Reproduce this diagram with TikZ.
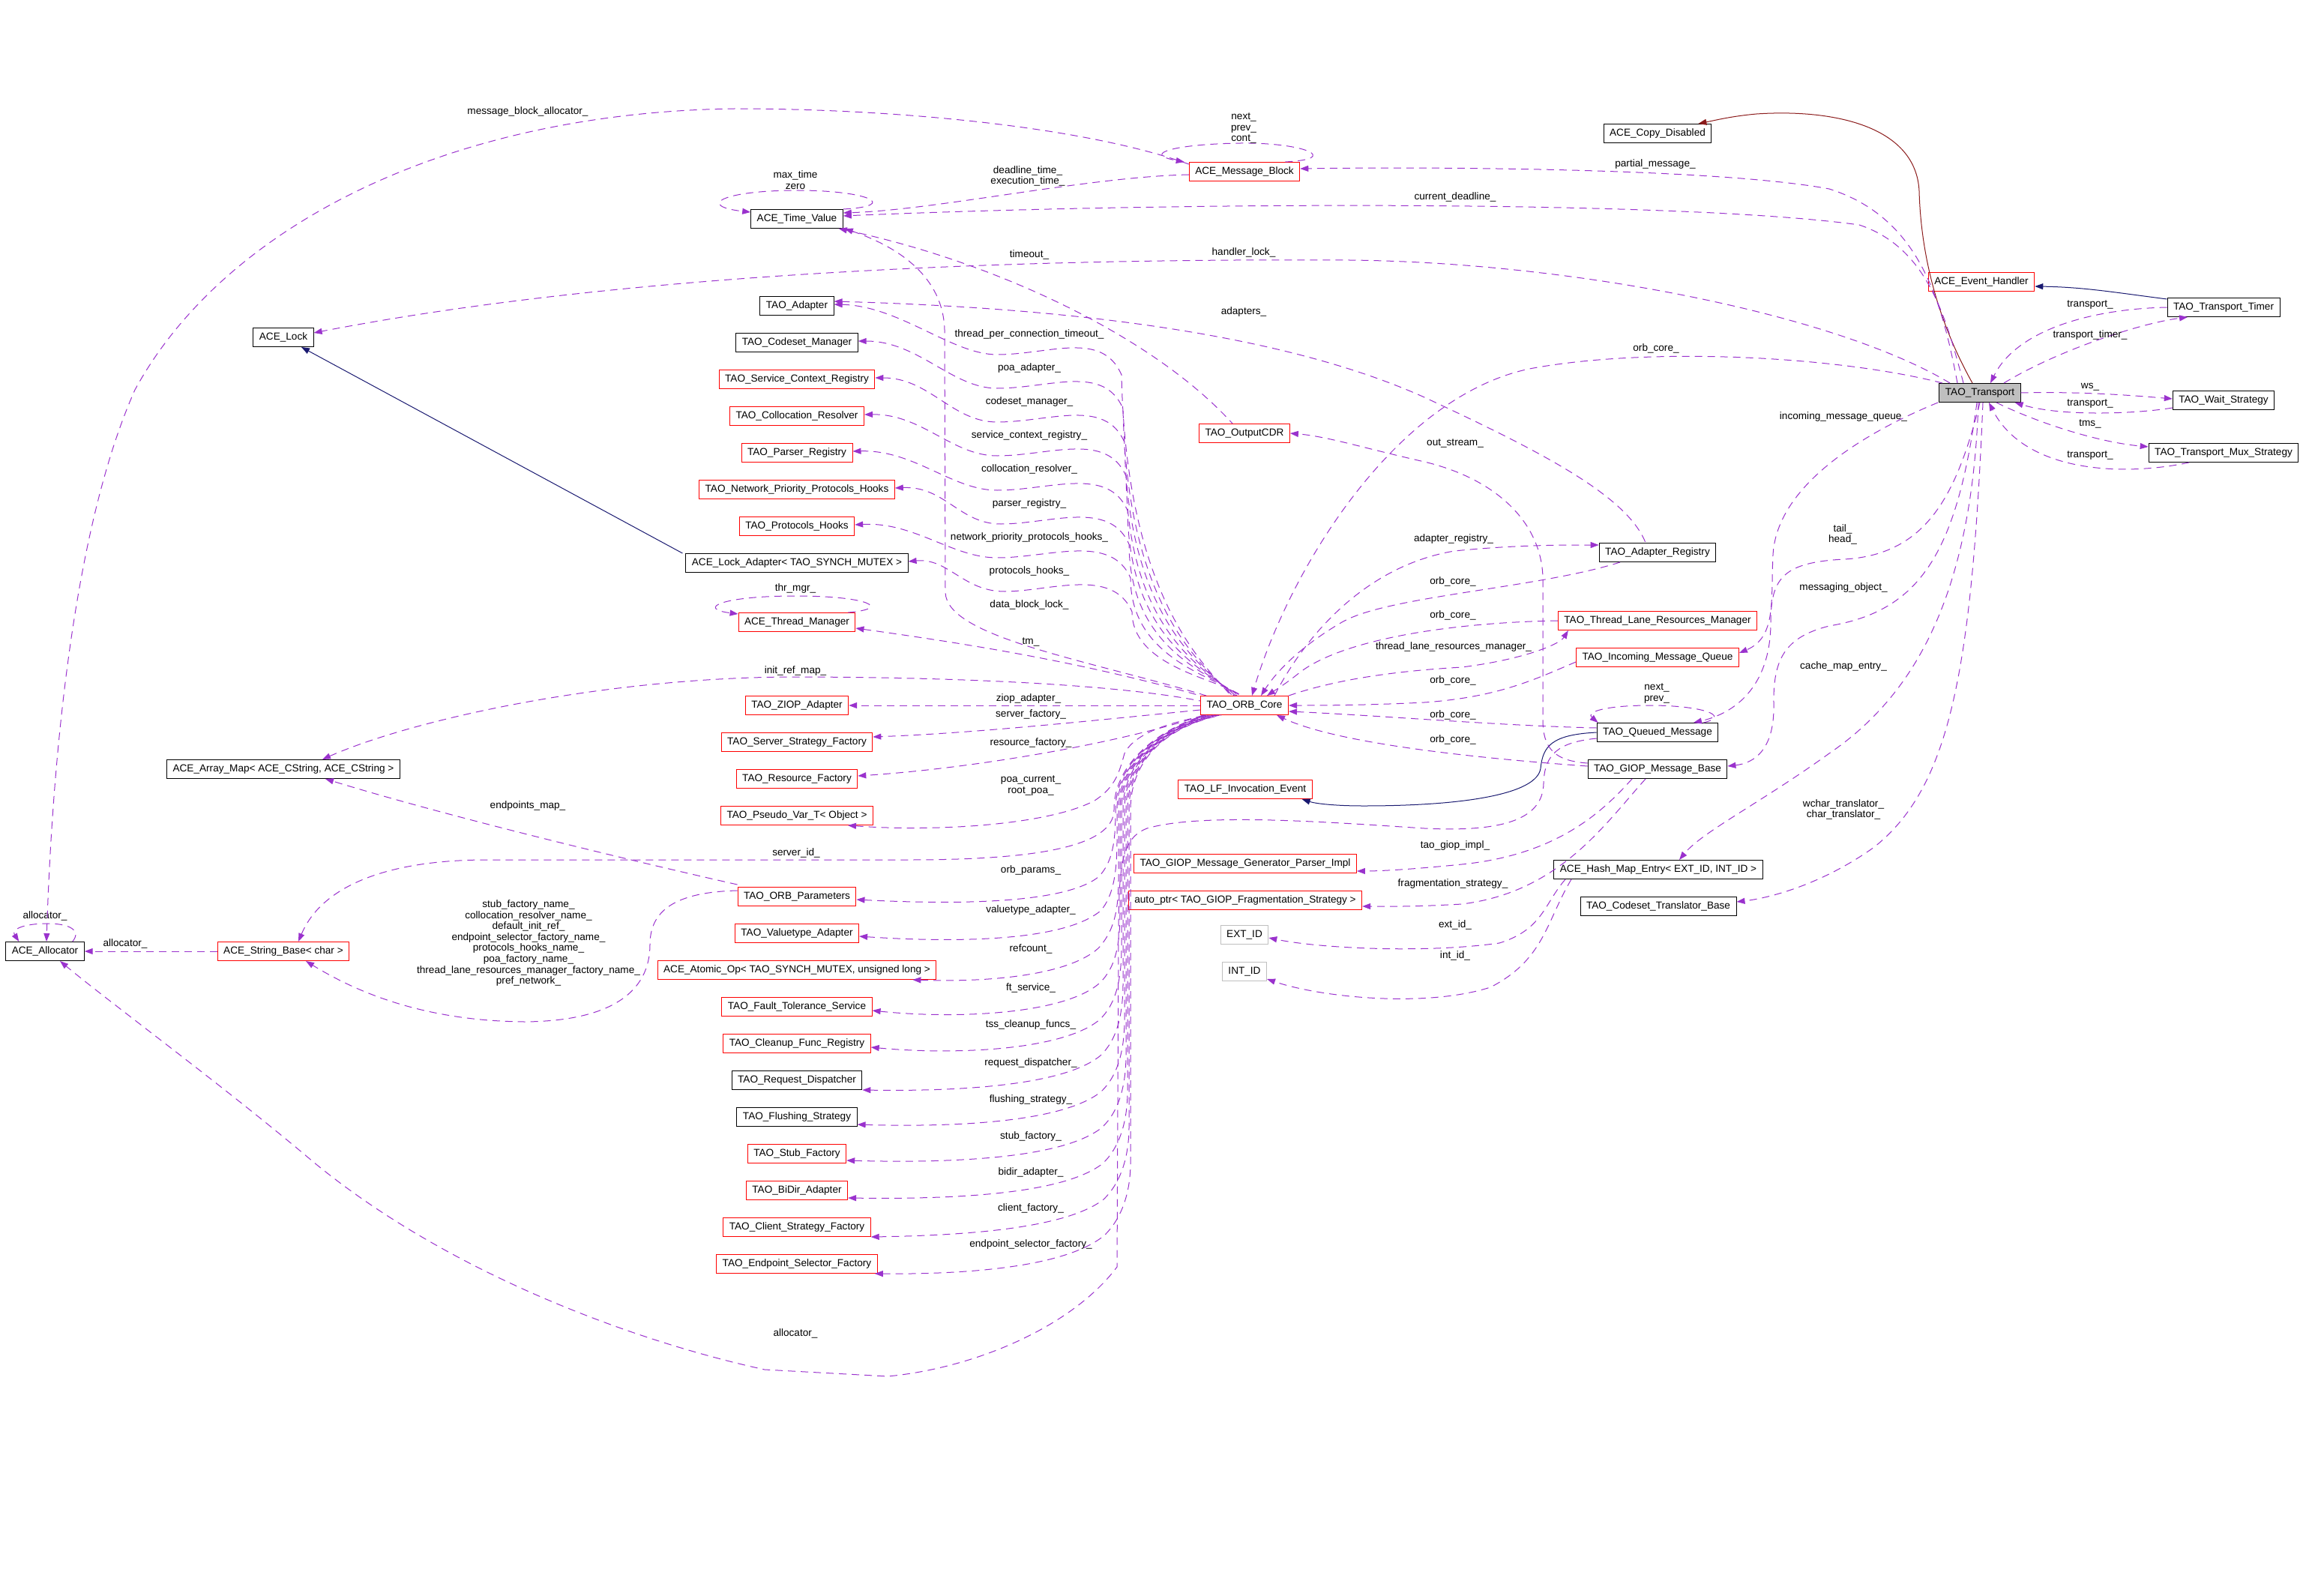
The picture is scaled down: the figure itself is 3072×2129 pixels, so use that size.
\documentclass[tikz,border=0pt]{standalone}
\usepackage{fontspec}
\setmainfont{Liberation Sans}
\usetikzlibrary{arrows.meta,positioning}
\definecolor{memberpurple}{HTML}{9A32CD}
\definecolor{basenavy}{HTML}{191970}
\definecolor{privred}{HTML}{8B1A1A}
\definecolor{lightgray}{HTML}{BFBFBF}

\begin{document}
\begin{tikzpicture}[
        x=0.5pt, y=-0.5pt,
        font=\fontsize{6.8}{7.3}\selectfont,
        >={Triangle[length=5.5pt,width=4pt]},
        % Estilos de las clases
        cls/.style={rectangle, draw=black, line width=0.5pt, minimum height=12.5pt, inner xsep=4pt, inner ysep=0pt},
        redcls/.style={cls, draw=red},
        graycls/.style={cls, draw=lightgray},
        focuscls/.style={cls, fill=lightgray},
        % Estilos de las relaciones
        member/.style={->, draw=memberpurple, line width=0.5pt, dash pattern=on 5pt off 3.5pt},
        pub/.style={->, draw=basenavy, line width=0.5pt},
        priv/.style={->, draw=privred, line width=0.5pt},
        lbl/.style={inner sep=0pt, align=center, text=black}
    ]
    \useasboundingbox (0,0) rectangle (3072,2129);

    % Clases de la derecha
    \node[cls] (copydis) at (2211,178) {ACE\_Copy\_Disabled};
    \node[redcls] (msgblock) at (1660,229) {ACE\_Message\_Block};
    \node[redcls] (evhandler) at (2643,376) {ACE\_Event\_Handler};
    \node[cls] (timer) at (2966,410) {TAO\_Transport\_Timer};
    \node[focuscls] (transport) at (2641,524) {TAO\_Transport};
    \node[cls] (waitstrat) at (2966,534) {TAO\_Wait\_Strategy};
    \node[cls] (muxstrat) at (2966,604) {TAO\_Transport\_Mux\_Strategy};
    \node[redcls] (outcdr) at (1660,578) {TAO\_OutputCDR};
    \node[redcls] (orbcore) at (1660,941) {TAO\_ORB\_Core};

    \node[cls] (adapterreg) at (2211,737) {TAO\_Adapter\_Registry};
    \node[redcls] (tlrm) at (2211,828) {TAO\_Thread\_Lane\_Resources\_Manager};
    \node[redcls] (inqueue) [below=11.5pt of tlrm] {TAO\_Incoming\_Message\_Queue};
    \node[cls] (queuedmsg) at (2211,977) {TAO\_Queued\_Message};
    \node[cls] (giopbase) [below=11.5pt of queuedmsg] {TAO\_GIOP\_Message\_Base};
    \node[cls] (hashentry) at (2212,1160) {ACE\_Hash\_Map\_Entry< EXT\_ID, INT\_ID >};
    \node[cls] (translator) [below=11.5pt of hashentry] {TAO\_Codeset\_Translator\_Base};

    \node[redcls] (lfevent) at (1661,1053) {TAO\_LF\_Invocation\_Event};
    \node[redcls] (giopimpl) at (1661,1152) {TAO\_GIOP\_Message\_Generator\_Parser\_Impl};
    \node[redcls] (fragstrat) [below=11.5pt of giopimpl] {auto\_ptr< TAO\_GIOP\_Fragmentation\_Strategy >};
    \node[graycls] (extid) at (1660,1247) {EXT\_ID};
    \node[graycls] (intid) [below=11.5pt of extid] {INT\_ID};

    % Columna izquierda del ORB
    \node[cls] (timeval) at (1063,292) {ACE\_Time\_Value};
    \node[cls] (adapter) at (1063,408) {TAO\_Adapter};
    \node[cls] (codeset) [below=11.5pt of adapter] {TAO\_Codeset\_Manager};
    \node[redcls] (svcctx) [below=11.5pt of codeset] {TAO\_Service\_Context\_Registry};
    \node[redcls] (colloc) [below=11.5pt of svcctx] {TAO\_Collocation\_Resolver};
    \node[redcls] (parser) [below=11.5pt of colloc] {TAO\_Parser\_Registry};
    \node[redcls] (netprio) [below=11.5pt of parser] {TAO\_Network\_Priority\_Protocols\_Hooks};
    \node[redcls] (prothooks) [below=11.5pt of netprio] {TAO\_Protocols\_Hooks};
    \node[cls] (lockadapter) [below=11.5pt of prothooks] {ACE\_Lock\_Adapter< TAO\_SYNCH\_MUTEX >};
    \node[redcls] (thrmgr) at (1063,830) {ACE\_Thread\_Manager};
    \node[redcls] (ziop) at (1063,941) {TAO\_ZIOP\_Adapter};
    \node[redcls] (srvfactory) [below=11.5pt of ziop] {TAO\_Server\_Strategy\_Factory};
    \node[redcls] (resfactory) [below=11.5pt of srvfactory] {TAO\_Resource\_Factory};
    \node[redcls] (pseudovar) [below=11.5pt of resfactory] {TAO\_Pseudo\_Var\_T< Object >};
    \node[redcls] (orbparams) at (1063,1196) {TAO\_ORB\_Parameters};
    \node[redcls] (valuetype) [below=11.5pt of orbparams] {TAO\_Valuetype\_Adapter};
    \node[redcls] (atomicop) [below=11.5pt of valuetype] {ACE\_Atomic\_Op< TAO\_SYNCH\_MUTEX, unsigned long >};
    \node[redcls] (ftservice) [below=11.5pt of atomicop] {TAO\_Fault\_Tolerance\_Service};
    \node[redcls] (cleanup) [below=11.5pt of ftservice] {TAO\_Cleanup\_Func\_Registry};
    \node[cls] (reqdisp) [below=11.5pt of cleanup] {TAO\_Request\_Dispatcher};
    \node[cls] (flushing) [below=11.5pt of reqdisp] {TAO\_Flushing\_Strategy};
    \node[redcls] (stubfactory) [below=11.5pt of flushing] {TAO\_Stub\_Factory};
    \node[redcls] (bidir) [below=11.5pt of stubfactory] {TAO\_BiDir\_Adapter};
    \node[redcls] (clientfactory) [below=11.5pt of bidir] {TAO\_Client\_Strategy\_Factory};
    \node[redcls] (endpointsel) [below=11.5pt of clientfactory] {TAO\_Endpoint\_Selector\_Factory};

    % Clases del extremo izquierdo
    \node[cls] (acelock) at (378,450) {ACE\_Lock};
    \node[cls] (arraymap) at (378,1026) {ACE\_Array\_Map< ACE\_CString, ACE\_CString >};
    \node[cls] (allocator) at (60,1269) {ACE\_Allocator};
    \node[redcls] (strbase) at (378,1269) {ACE\_String\_Base< char >};

    % ---------------- HERENCIA ---------------- %

    \draw[priv] ([xshift=-5pt]transport.north) .. controls (2580,420) and (2562,330) .. (2560,255) .. controls (2556,170) and (2450,145) .. (2343,152) .. controls (2310,155) and (2290,160) .. ([xshift=-9pt]copydis.north east);
    \draw[pub] ([yshift=-1pt]timer.north west) .. controls (2820,390) and (2780,383) .. ([yshift=-3pt]evhandler.east);
    \draw[pub] ([xshift=-2pt]lockadapter.north west) -- ([xshift=12pt]acelock.south);
    \draw[pub] (queuedmsg.west) .. controls (2070,980) and (2058,995) .. (2055,1025) .. controls (2050,1060) and (1950,1075) .. (1819,1075) .. controls (1780,1075) and (1755,1072) .. ([xshift=-7pt]lfevent.south east);

    % ---------------- MIEMBROS DE TAO_Transport ---------------- %

    \draw[member] ([xshift=16pt]transport.north) .. controls (2740,470) and (2850,432) .. ([xshift=-24pt]timer.south) node[lbl, at={(2788,447)}] {transport\_timer\_};
    \draw[member] (timer.west) .. controls (2790,412) and (2690,440) .. ([xshift=7pt]transport.north) node[lbl, at={(2788,407)}] {transport\_};
    \draw[member] (transport.east) .. controls (2780,522) and (2850,528) .. ([yshift=1pt]waitstrat.west) node[lbl, at={(2788,516)}] {ws\_};
    \draw[member] ([yshift=-5pt]waitstrat.west) .. controls (2850,552) and (2750,556) .. ([xshift=-4pt]transport.south east) node[lbl, at={(2788,539)}] {transport\_};
    \draw[member] ([xshift=11pt]transport.south) .. controls (2720,565) and (2800,590) .. ([yshift=4pt]muxstrat.west) node[lbl, at={(2788,565)}] {tms\_};
    \draw[member] ([xshift=-23pt]muxstrat.south) .. controls (2830,636) and (2700,630) .. ([xshift=6pt]transport.south) node[lbl, at={(2788,608)}] {transport\_};

    \draw[member] ([xshift=-15pt]transport.north) .. controls (2590,400) and (2560,290) .. (2440,252) .. controls (2300,226) and (1950,222) .. ([yshift=2pt]msgblock.east) node[lbl, at={(2208,219)}] {partial\_message\_};
    \draw[member] ([xshift=-11pt]transport.north) .. controls (2595,420) and (2570,330) .. (2480,300) .. controls (2250,268) and (1600,268) .. ([yshift=2pt]timeval.east) node[lbl, at={(1941,263)}] {current\_deadline\_};
    \draw[member] ([xshift=-20pt]transport.north) .. controls (2450,420) and (2100,350) .. (1800,347) .. controls (1300,344) and (800,370) .. ([yshift=3pt]acelock.east) node[lbl, at={(1659,337)}] {handler\_lock\_};
    \draw[member] ([xshift=-25pt]transport.north) .. controls (2450,475) and (2200,462) .. (2040,492) .. controls (1860,530) and (1720,760) .. ([xshift=5pt]orbcore.north) node[lbl, at={(2209,465)}] {orb\_core\_};

    \draw[member] ([xshift=-28pt]transport.south) .. controls (2480,580) and (2370,650) .. (2365,740) .. controls (2362,800) and (2370,850) .. ([yshift=3pt]inqueue.east) node[lbl, at={(2459,556)}] {incoming\_message\_queue\_};
    \draw[member] (transport.south) .. controls (2610,660) and (2570,740) .. (2460,746) .. controls (2380,750) and (2362,770) .. (2362,830) .. controls (2362,910) and (2320,950) .. ([xshift=24pt]queuedmsg.north) node[lbl, at={(2458,713)}] {tail\_\\head\_};
    \draw[member] ([xshift=-2pt]transport.south) .. controls (2610,740) and (2560,815) .. (2440,835) .. controls (2380,850) and (2365,880) .. (2366,940) .. controls (2367,1000) and (2340,1018) .. ([yshift=2pt]giopbase.east) node[lbl, at={(2459,784)}] {messaging\_object\_};
    \draw[member] ([xshift=-1pt]transport.south) .. controls (2630,800) and (2550,930) .. (2440,1005) .. controls (2350,1070) and (2270,1110) .. ([xshift=14pt]hashentry.north) node[lbl, at={(2459,889)}] {cache\_map\_entry\_};
    \draw[member] ([xshift=2pt]transport.south) .. controls (2630,900) and (2600,1050) .. (2500,1130) .. controls (2430,1180) and (2360,1198) .. ([yshift=3pt]translator.east) node[lbl, at={(2459,1080)}] {wchar\_translator\_\\char\_translator\_};

    % ---------------- LAZOS ---------------- %

    \draw[member] ([xshift=-10pt]msgblock.north east) .. controls (1790,212) and (1740,190) .. (1655,191) .. controls (1570,192) and (1520,205) .. ([xshift=-3pt]msgblock.north west) node[lbl, at={(1659,171)}] {next\_\\prev\_\\cont\_};
    \draw[member] (timeval.north east) .. controls (1200,275) and (1160,254) .. (1064,254) .. controls (960,254) and (930,275) .. ([yshift=-2pt]timeval.north west) node[lbl, at={(1061,240)}] {max\_time\\zero};
    \draw[member] ([xshift=-5pt]thrmgr.north east) .. controls (1190,812) and (1160,795) .. (1061,795) .. controls (960,795) and (930,812) .. ([yshift=-1pt]thrmgr.north west) node[lbl, at={(1061,785)}] {thr\_mgr\_};
    \draw[member] ([xshift=-10pt]queuedmsg.north east) .. controls (2310,955) and (2270,941) .. (2201,941) .. controls (2140,941) and (2115,950) .. ([xshift=1pt]queuedmsg.north west) node[lbl, at={(2210,925)}] {next\_\\prev\_};
    \draw[member] ([xshift=-8pt]allocator.north east) .. controls (110,1240) and (90,1232) .. (64,1232) .. controls (30,1232) and (15,1240) .. ([xshift=9pt]allocator.north west) node[lbl, at={(60,1222)}] {allocator\_};

    % ---------------- MIEMBROS DE ACE_Message_Block y TAO_OutputCDR ---------------- %

    \draw[member] ([yshift=-2pt]msgblock.west) .. controls (1450,236) and (1250,280) .. ([yshift=4pt]timeval.east) node[lbl, at={(1371,235)}] {deadline\_time\_\\execution\_time\_};
    \draw[member] ([yshift=5pt]msgblock.west) .. controls (1450,170) and (1200,145) .. (980,145) .. controls (600,150) and (300,300) .. (180,520) .. controls (100,700) and (70,1000) .. ([xshift=1pt]allocator.north) node[lbl, at={(704,149)}] {message\_block\_allocator\_};
    \draw[member,<-] ([xshift=-3pt]timeval.south east) .. controls (1330,350) and (1540,450) .. ([xshift=-8pt]outcdr.north) node[lbl, at={(1373,340)}] {timeout\_};

    % ---------------- TAO_ORB_Core hacia arriba ---------------- %

    \draw[member,<-] ([xshift=1pt]timeval.south east) .. controls (1200,330) and (1258,370) .. (1260,440) -- (1261,790) .. controls (1262,850) and (1450,880) .. ([xshift=4pt]orbcore.north west) node[lbl, at={(1373,446)}] {thread\_per\_connection\_timeout\_};
    \draw[member,<-] ([yshift=1pt]adapter.east) .. controls (1200,408) and (1270,473) .. (1330,473) .. controls (1400,473) and (1470,440) .. (1496,500) .. controls (1502,800) and (1610,890) .. ([xshift=-9pt]orbcore.north) node[lbl, at={(1373,491)}] {poa\_adapter\_};
    \draw[member,<-] ([yshift=1pt]codeset.east) .. controls (1225,455) and (1270,518) .. (1330,518) .. controls (1400,518) and (1472,485) .. (1498,545) .. controls (1503,820) and (1612,893) .. ([xshift=-8pt]orbcore.north) node[lbl, at={(1373,536)}] {codeset\_manager\_};
    \draw[member,<-] ([yshift=1pt]svcctx.east) .. controls (1240,504) and (1270,563) .. (1330,563) .. controls (1400,563) and (1474,530) .. (1500,590) .. controls (1504,835) and (1614,895) .. ([xshift=-7pt]orbcore.north) node[lbl, at={(1373,581)}] {service\_context\_registry\_};
    \draw[member,<-] ([yshift=1pt]colloc.east) .. controls (1230,552) and (1270,608) .. (1330,608) .. controls (1400,608) and (1476,575) .. (1502,635) .. controls (1505,850) and (1616,897) .. ([xshift=-6pt]orbcore.north) node[lbl, at={(1373,626)}] {collocation\_resolver\_};
    \draw[member,<-] ([yshift=1pt]parser.east) .. controls (1220,600) and (1270,654) .. (1330,654) .. controls (1400,654) and (1478,621) .. (1504,681) .. controls (1506,860) and (1618,899) .. ([xshift=-5pt]orbcore.north) node[lbl, at={(1373,672)}] {parser\_registry\_};
    \draw[member,<-] ([yshift=1pt]netprio.east) .. controls (1260,648) and (1280,699) .. (1335,699) .. controls (1400,699) and (1480,666) .. (1506,726) .. controls (1507,870) and (1620,900) .. ([xshift=-4pt]orbcore.north) node[lbl, at={(1373,717)}] {network\_priority\_protocols\_hooks\_};
    \draw[member,<-] ([yshift=1pt]prothooks.east) .. controls (1220,696) and (1270,744) .. (1330,744) .. controls (1400,744) and (1482,711) .. (1508,771) .. controls (1508,880) and (1622,902) .. ([xshift=-3pt]orbcore.north) node[lbl, at={(1373,762)}] {protocols\_hooks\_};
    \draw[member,<-] ([yshift=1pt]lockadapter.east) .. controls (1265,744) and (1285,789) .. (1340,789) .. controls (1400,789) and (1484,756) .. (1510,816) .. controls (1510,890) and (1624,905) .. ([xshift=-2pt]orbcore.north) node[lbl, at={(1373,807)}] {data\_block\_lock\_};
    \draw[member,<-] ([yshift=-4pt]thrmgr.east) .. controls (1300,860) and (1450,885) .. (orbcore.north west) node[lbl, at={(1375,856)}] {tm\_};
    \draw[member,<-] ([xshift=26pt]arraymap.north) .. controls (550,960) and (800,905) .. (1050,903) .. controls (1300,903) and (1500,915) .. ([yshift=3pt]orbcore.west) node[lbl, at={(1061,895)}] {init\_ref\_map\_};

    % ---------------- TAO_ORB_Core hacia abajo ---------------- %

    \draw[member] (orbcore.west) -- (ziop.east) node[lbl, at={(1372,932)}] {ziop\_adapter\_};
    \draw[member] ([yshift=-3pt]orbcore.west) .. controls (1450,962) and (1300,978) .. ([yshift=3.5pt]srvfactory.east) node[lbl, at={(1375,953)}] {server\_factory\_};
    \draw[member] ([xshift=2pt]orbcore.south west) .. controls (1500,990) and (1300,1025) .. ([yshift=2pt]resfactory.east) node[lbl, at={(1375,991)}] {resource\_factory\_};
    \draw[member,<-] ([xshift=-17pt]pseudovar.south east) .. controls (1250,1110) and (1400,1100) .. (1460,1068) .. controls (1488,1050) and (1493,1030) .. (1500,1005) .. controls (1515,975) and (1570,962) .. ([xshift=5pt]orbcore.south west) node[lbl, at={(1375,1048)}] {poa\_current\_\\root\_poa\_};
    \draw[member,<-] ([xshift=10pt]strbase.north) .. controls (430,1180) and (520,1147) .. (650,1147) -- (1212,1147) .. controls (1380,1147) and (1486,1130) .. (1486,1080) .. controls (1486,1010) and (1560,968) .. ([xshift=3pt]orbcore.south west) node[lbl, at={(1062,1138)}] {server\_id\_};
    \draw[member,<-] ([yshift=-2pt]orbparams.east) .. controls (1280,1207) and (1420,1205) .. (1465,1170) .. controls (1485,1150) and (1488,1120) .. (1488,1080) .. controls (1488,1010) and (1560,968) .. ([xshift=4pt]orbcore.south west) node[lbl, at={(1375,1161)}] {orb\_params\_};
    \draw[member,<-] ([yshift=-2pt]valuetype.east) .. controls (1280,1258) and (1420,1255) .. (1468,1215) .. controls (1486,1195) and (1490,1160) .. (1490,1120) -- (1490,1080) .. controls (1490,1010) and (1560,968) .. ([xshift=5pt]orbcore.south west) node[lbl, at={(1375,1214)}] {valuetype\_adapter\_};
    \draw[member,<-] ([xshift=-16pt]atomicop.south east) .. controls (1300,1310) and (1420,1305) .. (1465,1265) .. controls (1488,1240) and (1492,1210) .. (1492,1170) -- (1492,1080) .. controls (1492,1010) and (1560,968) .. ([xshift=6pt]orbcore.south west) node[lbl, at={(1375,1266)}] {refcount\_};
    \draw[member,<-] ([yshift=-2.5pt]ftservice.east) .. controls (1280,1360) and (1420,1352) .. (1466,1312) .. controls (1490,1290) and (1494,1255) .. (1494,1215) -- (1494,1080) .. controls (1494,1010) and (1560,968) .. ([xshift=7pt]orbcore.south west) node[lbl, at={(1375,1318)}] {ft\_service\_};
    \draw[member,<-] ([yshift=-2.5pt]cleanup.east) .. controls (1280,1408) and (1420,1400) .. (1467,1360) .. controls (1490,1338) and (1496,1303) .. (1496,1263) -- (1496,1080) .. controls (1496,1010) and (1560,968) .. ([xshift=8pt]orbcore.south west) node[lbl, at={(1375,1367)}] {tss\_cleanup\_funcs\_};
    \draw[member,<-] (reqdisp.south east) .. controls (1280,1456) and (1420,1448) .. (1468,1408) .. controls (1491,1386) and (1498,1351) .. (1498,1311) -- (1498,1080) .. controls (1498,1010) and (1560,968) .. ([xshift=9pt]orbcore.south west) node[lbl, at={(1375,1418)}] {request\_dispatcher\_};
    \draw[member,<-] ([yshift=-5pt]flushing.east) .. controls (1280,1504) and (1420,1496) .. (1469,1456) .. controls (1492,1434) and (1500,1399) .. (1500,1359) -- (1500,1080) .. controls (1500,1010) and (1560,968) .. ([xshift=10pt]orbcore.south west) node[lbl, at={(1375,1467)}] {flushing\_strategy\_};
    \draw[member,<-] ([yshift=-4.5pt]stubfactory.east) .. controls (1280,1552) and (1420,1544) .. (1470,1504) .. controls (1493,1482) and (1502,1447) .. (1502,1407) -- (1502,1080) .. controls (1502,1010) and (1560,968) .. ([xshift=11pt]orbcore.south west) node[lbl, at={(1375,1516)}] {stub\_factory\_};
    \draw[member,<-] ([yshift=-5pt]bidir.east) .. controls (1280,1600) and (1420,1592) .. (1471,1552) .. controls (1494,1530) and (1504,1495) .. (1504,1455) -- (1504,1080) .. controls (1504,1010) and (1560,968) .. ([xshift=12pt]orbcore.south west) node[lbl, at={(1375,1564)}] {bidir\_adapter\_};
    \draw[member,<-] (clientfactory.south east) .. controls (1280,1648) and (1420,1640) .. (1472,1600) .. controls (1495,1578) and (1506,1543) .. (1506,1503) -- (1506,1080) .. controls (1506,1010) and (1560,968) .. ([xshift=13pt]orbcore.south west) node[lbl, at={(1375,1612)}] {client\_factory\_};
    \draw[member,<-] ([xshift=-2pt]endpointsel.south east) .. controls (1280,1700) and (1420,1692) .. (1473,1648) .. controls (1496,1626) and (1508,1591) .. (1508,1551) -- (1508,1080) .. controls (1508,1010) and (1560,968) .. ([xshift=14pt]orbcore.south west) node[lbl, at={(1375,1660)}] {endpoint\_selector\_factory\_};

    % ---------------- TAO_ORB_Core hacia la derecha ---------------- %

    \draw[member] ([xshift=20pt]orbcore.north) .. controls (1740,850) and (1820,755) .. (1940,735) .. controls (2020,727) and (2080,727) .. ([yshift=5pt]adapterreg.west) node[lbl, at={(1939,719)}] {adapter\_registry\_};
    \draw[member] ([xshift=-25pt]adapterreg.south) .. controls (2050,785) and (1850,795) .. (1790,830) .. controls (1730,865) and (1700,900) .. ([xshift=11pt]orbcore.north) node[lbl, at={(1938,776)}] {orb\_core\_};
    \draw[member] (tlrm.west) .. controls (1950,830) and (1790,850) .. (1730,900) .. controls (1715,912) and (1702,920) .. ([xshift=15pt]orbcore.north) node[lbl, at={(1938,821)}] {orb\_core\_};
    \draw[member] (orbcore.north east) .. controls (1800,900) and (1900,893) .. (1950,890) .. controls (2030,880) and (2080,860) .. ([xshift=7pt]tlrm.south west) node[lbl, at={(1939,863)}] {thread\_lane\_resources\_manager\_};
    \draw[member] ([yshift=-3pt]inqueue.west) .. controls (2050,905) and (2000,930) .. (1900,937) .. controls (1820,941) and (1760,941) .. (orbcore.east) node[lbl, at={(1938,908)}] {orb\_core\_};
    \draw[member] ([yshift=3pt]queuedmsg.west) .. controls (2000,968) and (1850,955) .. ([yshift=-4pt]orbcore.east) node[lbl, at={(1938,954)}] {orb\_core\_};
    \draw[member] ([yshift=2pt]giopbase.west) .. controls (1950,1010) and (1780,990) .. ([xshift=-8pt]orbcore.south east) node[lbl, at={(1938,987)}] {orb\_core\_};
    \draw[member,<-] ([yshift=3pt]adapter.east) .. controls (1400,410) and (1700,440) .. (1900,530) .. controls (2050,600) and (2170,660) .. ([xshift=-8pt]adapterreg.north) node[lbl, at={(1659,416)}] {adapters\_};

    % ---------------- Mensajes GIOP ---------------- %

    \draw[member] ([yshift=4pt]giopbase.west) .. controls (2075,1015) and (2058,1000) .. (2058,960) -- (2058,770) .. controls (2056,700) and (2000,640) .. (1900,616) .. controls (1820,598) and (1770,582) .. (outcdr.east) node[lbl, at={(1941,591)}] {out\_stream\_};
    \draw[member] ([xshift=-17pt]giopbase.south) .. controls (2140,1080) and (2080,1140) .. (1950,1153) .. controls (1880,1160) and (1840,1162) .. ([yshift=-5pt]giopimpl.east) node[lbl, at={(1941,1128)}] {tao\_giop\_impl\_};
    \draw[member] ([xshift=-8pt]giopbase.south) .. controls (2140,1100) and (2080,1190) .. (1950,1206) .. controls (1880,1210) and (1850,1209) .. ([yshift=-4pt]fragstrat.east) node[lbl, at={(1938,1179)}] {fragmentation\_strategy\_};
    \draw[member] ([xshift=-62pt]hashentry.south) .. controls (2060,1205) and (2058,1240) .. (2000,1258) .. controls (1900,1272) and (1760,1265) .. ([yshift=-2pt]extid.east) node[lbl, at={(1941,1234)}] {ext\_id\_};
    \draw[member] ([xshift=-58pt]hashentry.south) .. controls (2062,1230) and (2060,1280) .. (1988,1317) .. controls (1900,1345) and (1760,1330) .. ([yshift=-5pt]intid.east) node[lbl, at={(1941,1275)}] {int\_id\_};

    % Asignador compartido
    \draw[member] ([yshift=-4pt]queuedmsg.west) .. controls (2080,990) and (2060,1005) .. (2059,1045) .. controls (2058,1095) and (2000,1110) .. (1900,1105) .. controls (1750,1095) and (1600,1085) .. (1530,1105) .. controls (1497,1118) and (1492,1150) .. (1492,1250) -- (1490,1690) .. controls (1430,1770) and (1300,1825) .. (1184,1836) -- (1020,1827) .. controls (850,1790) and (600,1700) .. (418,1550) .. controls (300,1450) and (150,1340) .. ([xshift=10pt]allocator.south) node[lbl, at={(1061,1779)}] {allocator\_};

    % ---------------- Cadenas ---------------- %

    \draw[member] (strbase.west) -- (allocator.east) node[lbl, at={(167,1259)}] {allocator\_};
    \draw[member] ([yshift=8pt]orbparams.west) .. controls (850,1150) and (600,1090) .. ([xshift=28pt]arraymap.south) node[lbl, at={(704,1075)}] {endpoints\_map\_};
    \draw[member] ([yshift=4pt]orbparams.west) .. controls (900,1190) and (867,1215) .. (867,1260) .. controls (867,1320) and (820,1362) .. (700,1363) .. controls (560,1362) and (470,1320) .. ([xshift=15pt]strbase.south) node[lbl, at={(705,1258)}] {stub\_factory\_name\_\\collocation\_resolver\_name\_\\default\_init\_ref\_\\endpoint\_selector\_factory\_name\_\\protocols\_hooks\_name\_\\poa\_factory\_name\_\\thread\_lane\_resources\_manager\_factory\_name\_\\pref\_network\_};

\end{tikzpicture}
\end{document}
